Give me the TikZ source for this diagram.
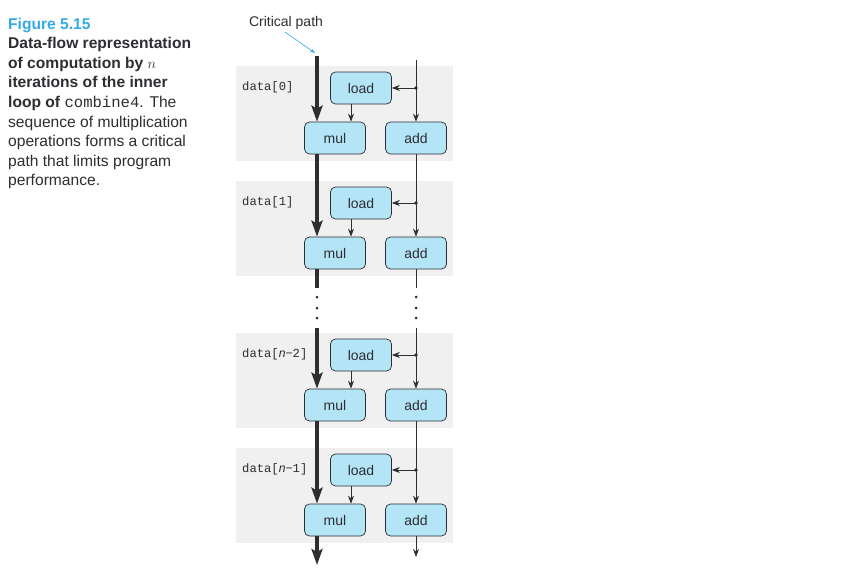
\documentclass[tikz,border=0pt]{standalone}
\usepackage{fontspec}
\setmainfont{Liberation Sans}
\setmonofont{Liberation Mono}
\usetikzlibrary{arrows.meta}
\usetikzlibrary{calc}

\definecolor{capblue}{RGB}{52,170,228}
\definecolor{boxblue}{RGB}{180,229,247}
\definecolor{bggray}{RGB}{240,240,240}
\definecolor{inkgray}{RGB}{45,45,50}
\newcommand\itn{{\rmfamily\itshape n}{\rmfamily −}}

\tikzset{
  capline/.style={anchor=base west, inner sep=0pt, font=\fontsize{15.6}{18}\selectfont, text=inkgray},
  op/.style={draw=inkgray, fill=boxblue, rounded corners=5pt, line width=0.7pt,
    minimum width=61pt, minimum height=32pt, inner sep=0pt,
    font=\fontsize{14}{16}\selectfont, text=inkgray},
  datalabel/.style={anchor=west, inner sep=0pt, font=\fontsize{12.2}{14}\ttfamily, text=inkgray},
  flow/.style={draw=inkgray, line width=0.8pt, -{Stealth[length=8pt,width=6pt]}},
  critline/.style={draw=inkgray, line width=3.6pt},
  crit/.style={critline, -{Stealth[length=16pt,width=11pt,inset=3pt]}},
  pointer/.style={draw=capblue, line width=0.6pt, -{Stealth[length=5pt,width=3.5pt]}},
}

\begin{document}
\begin{tikzpicture}[x=1pt,y=-1pt]
\useasboundingbox (0,0) rectangle (857,581);
% caption
\node[capline, text=capblue, font=\fontsize{15.6}{18}\selectfont\bfseries] (fig) at (8,29) {Figure 5.15};
\foreach \T [count=\Y] in {{\bfseries Data-flow representation},
  {\bfseries of computation by $n$},
  {\bfseries iterations of the inner},
  {\bfseries loop of \texttt{\mdseries combine4}}. The,
  {sequence of multiplication},
  {operations forms a critical},
  {path that limits program},
  {performance.}}
{\node[capline] (cap-\Y) at (8,{29+19.6*\Y}) {\T};}
% iterations
\foreach \T/\D [count=\Y from 0] in {66/0, 181/1, 333/\itn2, 448/\itn1}
{\fill[bggray] (236,\T) rectangle (453,\T+95);
\node[datalabel] (data-\Y) at (242,\T+21) {data[\D]};
\node[op] (load-\Y) at (361,\T+22) {load};
\node[op] (mul-\Y) at (335,\T+72) {mul};
\node[op] (add-\Y) at (416,\T+72) {add};
\coordinate (tap-\Y) at (416,\T+22);
\fill[inkgray] (tap-\Y) circle (1.9pt);
\draw[flow] (tap-\Y) -- (load-\Y.east);
\draw[flow] ([xshift=-10pt]load-\Y.south) -- ([xshift=16pt]mul-\Y.north);
}
% critical path and counter
\path (317,56) coordinate (crit-top) (416,60) coordinate (add-top)
  (317,565) coordinate (crit-end) (416,557) coordinate (add-end)
  (0,288) coordinate (gap-top) (0,328) coordinate (gap-bot);
\draw[crit] (crit-top) -- (crit-top |- mul-0.north);
\draw[flow] (add-top) -- (add-0);
\foreach \a/\b in {0/1,2/3}
{\draw[crit] (crit-top |- mul-\a.south) -- (crit-top |- mul-\b.north);
\draw[flow] (add-\a) -- (add-\b);}
\draw[critline] (crit-top |- mul-1.south) -- (crit-top |- gap-top);
\draw[inkgray, line width=0.8pt] (add-1) -- (add-top |- gap-top);
\draw[crit] (crit-top |- gap-bot) -- (crit-top |- mul-2.north);
\draw[flow] (add-top |- gap-bot) -- (add-2);
\foreach \y in {297,308,318}
{\foreach \x in {317,416}
{\fill[inkgray] (\x,\y) circle (1.5pt);}}
\draw[crit] (crit-top |- mul-3.south) -- (crit-end);
\draw[flow] (add-3) -- (add-end);
% label
\node[anchor=base, inner sep=0pt, font=\fontsize{14}{16}\selectfont, text=inkgray] (crit-label) at (286,26) {Critical path};
\coordinate (crit-tip) at (315,53);
\draw[pointer] (285,32) -- (crit-tip);
\end{tikzpicture}
\end{document}
